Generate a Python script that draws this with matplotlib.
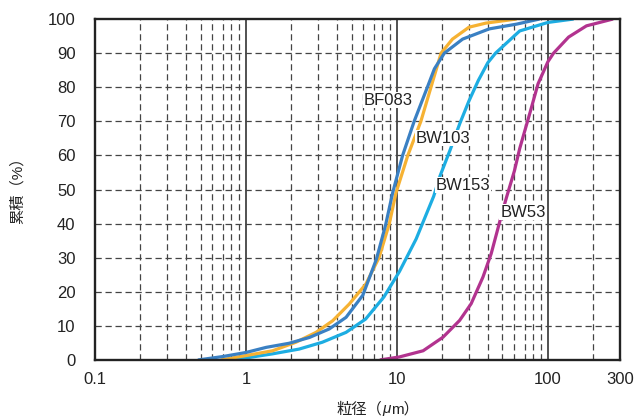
import matplotlib
matplotlib.use("Agg")
import matplotlib.pyplot as plt
from matplotlib.ticker import FixedLocator, NullFormatter
from matplotlib.offsetbox import TextArea, HPacker, AnnotationBbox

plt.rcParams['font.family'] = ['Liberation Sans', 'Noto Sans CJK JP', 'DejaVu Sans']

# particle size (um) vs cumulative (%)
bf083_x = [0.48, 0.7, 1.0, 1.36, 1.93, 2.63, 3.56, 4.6, 5.94, 7.3, 8.4, 9.36,
           10.9, 13.0, 15.9, 17.7, 20.6, 27.2, 40.8, 62, 88]
bf083_y = [0, 1.0, 2.2, 3.7, 4.9, 6.6, 9.1, 12.5, 19, 29.5, 39.5, 49,
           60, 70, 80, 85.4, 90, 94.1, 97.1, 98.5, 100]

bw103_x = [0.68, 1.0, 1.5, 2.14, 2.91, 3.75, 4.83, 6.23, 7.62, 8.9, 9.85,
           11.8, 14.4, 16.8, 19.6, 23.3, 30, 38.8, 62]
bw103_y = [0, 1.3, 2.7, 5.2, 8.1, 11.5, 16.4, 22.3, 30.1, 40, 49,
           60, 70, 80, 90, 94.1, 97.6, 98.8, 100]

bw153_x = [0.8, 1.0, 1.5, 2.25, 3.2, 4.6, 6.2, 8.2, 10.4, 13.4, 17.5, 19.3,
           22.5, 26.1, 30, 34.6, 40, 45, 65, 100, 148]
bw153_y = [0, 0.6, 1.8, 3.2, 5.2, 8.1, 12, 18.5, 26, 35.5, 48, 54,
           61.6, 69.4, 76, 82, 87.2, 90, 96.5, 99, 100]

bw53_x = [7.7, 10.4, 14.9, 20.2, 26, 31, 37.1, 42.1, 47.9, 53, 60, 65,
          75.8, 86, 100, 109, 137, 180, 270]
bw53_y = [0, 0.9, 2.7, 6.7, 11.6, 16.5, 24.3, 31.2, 40.5, 47.5, 55.5, 62,
          72.3, 81, 87.5, 90, 94.7, 98, 100]

series = [
    ("BW153", bw153_x, bw153_y, "#1dade2", 27.4, 51.3),
    ("BW103", bw103_x, bw103_y, "#f6b233", 20.2, 65.1),
    ("BF083", bf083_x, bf083_y, "#3a80c3", 8.7, 76.2),
    ("BW53", bw53_x, bw53_y, "#b2338f", 68.2, 43.4),
]

x_ticks = [0.1, 1, 10, 100, 300]
x_ticklabels = ["0.1", "1", "10", "100", "300"]
y_ticks = list(range(0, 101, 10))

fig = plt.figure(figsize=(6.36, 4.18), dpi=100)
ax = fig.add_axes([0.1494, 0.1388, 0.8254, 0.8157])
ax.set_xscale("log")
ax.set_xlim(0.1, 300)
ax.set_ylim(0, 100)

# grid: dashed minor decades, solid at 1/10/100
minor = [m * d for d in (0.1, 1, 10, 100) for m in range(2, 10) if m * d < 300]
for v in minor:
    ax.axvline(v, color="#444444", lw=0.9, ls=(0, (5, 3)), zorder=1)
for v in (1, 10, 100):
    ax.axvline(v, color="#222222", lw=1.1, zorder=1)
for v in y_ticks[1:-1]:
    ax.axhline(v, color="#444444", lw=0.9, ls=(0, (5, 3)), zorder=1)

for name, xs, ys, c, lx, ly in series:
    ax.plot(xs, ys, color=c, lw=2.3, solid_capstyle="butt", zorder=3)
    ax.text(lx, ly, name, fontsize=12, color="#222222", ha="center", va="center",
            zorder=4, bbox=dict(facecolor="white", edgecolor="none", pad=0.5))

ax.xaxis.set_major_locator(FixedLocator(x_ticks))
ax.set_xticklabels(x_ticklabels)
ax.xaxis.set_minor_formatter(NullFormatter())
ax.set_yticks(y_ticks)
ax.tick_params(axis="both", which="both", length=0, labelsize=12, colors="#222222")
ax.tick_params(axis="x", pad=9)
ax.tick_params(axis="y", pad=14)

for s in ax.spines.values():
    s.set_linewidth(1.7)
    s.set_color("#222222")
    s.set_zorder(5)

fig.text(0.028, 0.553, "累積（%）", rotation=90, ha="center", va="center",
         fontsize=11, color="#222222")

# x label with italic mu
tp = dict(fontsize=11, color="#222222")
parts = HPacker(children=[
    TextArea("粒径（", textprops=tp),
    TextArea("μ", textprops=dict(tp, family="Liberation Sans", style="italic")),
    TextArea("m）", textprops=tp),
], align="baseline", pad=0, sep=0)
ab = AnnotationBbox(parts, (0.594, 0.022), xycoords="figure fraction",
                    frameon=False, box_alignment=(0.5, 0.5), pad=0)
fig.add_artist(ab)

fig.savefig("out.png", dpi=100)
